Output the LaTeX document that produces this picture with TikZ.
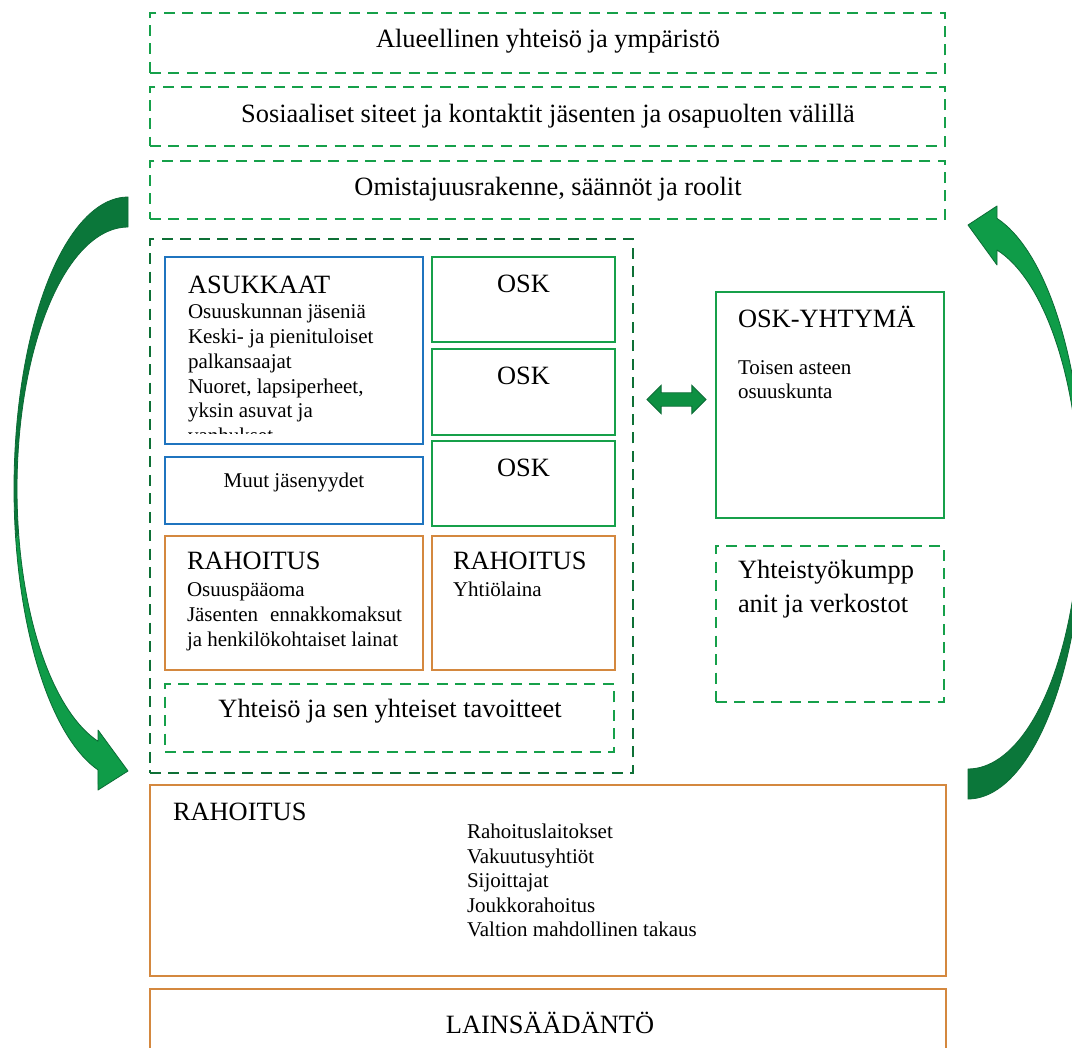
\documentclass[tikz,border=0pt]{standalone}
\usepackage{fontspec}
\setmainfont{Liberation Serif}
\usetikzlibrary{fit,shapes.arrows}
\definecolor{lgreen}{HTML}{16A04A}
\definecolor{dgreen}{HTML}{0E7036}
\definecolor{bblue}{HTML}{1F74BF}
\definecolor{oorange}{HTML}{D4883F}
\definecolor{arrdark}{HTML}{0B773A}
\definecolor{arrlight}{HTML}{0F9C48}
\definecolor{arrline}{HTML}{0B6B35}
\tikzset{
  frame/.style={inner sep=0pt, outer sep=0pt, line width=2.1pt},
  gdashbox/.style={frame, draw=lgreen, dash pattern=on 8.25pt off 5.6pt},
  ddashbox/.style={frame, draw=dgreen, dash pattern=on 8.25pt off 5.6pt},
  bluebox/.style={frame, draw=bblue},
  greenbox/.style={frame, draw=lgreen},
  orangebox/.style={frame, draw=oorange},
  big/.style={font=\fontsize{19.8pt}{24pt}\selectfont},
  small/.style={font=\fontsize{15.75pt}{18.4pt}\selectfont},
  tl/.style={inner sep=0pt, outer sep=0pt, anchor=base west},
  tc/.style={inner sep=0pt, outer sep=0pt, anchor=base},
}
\begin{document}
\begin{tikzpicture}[x=0.75pt,y=-0.75pt]
\useasboundingbox (0,0) rectangle (1072,1047);
\fill[white] (0,0) rectangle (1072,1047);
\clip (0,0) rectangle (1072,1047);

% top boxes
\node[gdashbox, fit={(150,13) (945,73)}] (b1) {};
\node[gdashbox, fit={(150,87) (945,146)}] (b2) {};
\node[gdashbox, fit={(150,161) (945,219)}] (b3) {};
\node[big,tc] (t1) at (548,47) {Alueellinen yhteisö ja ympäristö};
\node[big,tc] (t2) at (548,122) {Sosiaaliset siteet ja kontaktit jäsenten ja osapuolten välillä};
\node[big,tc] (t3) at (548,195) {Omistajuusrakenne, säännöt ja roolit};

% outer dashed group
\node[ddashbox, fit={(150,239) (633,773)}] (outer) {};

% ASUKKAAT
\node[bluebox, fit={(165,257) (423,444)}] (asuk) {};
\node[big,tl] (asukt) at (188,293) {ASUKKAAT};
\begin{scope}
\clip (165,257) rectangle (423,433);
\node[small,tl] (a1) at (188,318) {Osuuskunnan jäseniä};
\node[small,tl] (a2) at (188,343) {Keski- ja pienituloiset};
\node[small,tl] (a3) at (188,368) {palkansaajat};
\node[small,tl] (a4) at (188,393) {Nuoret, lapsiperheet,};
\node[small,tl] (a5) at (188,417) {yksin asuvat ja};
\node[small,tl] (a6) at (188,442) {vanhukset};
\end{scope}

\node[bluebox, fit={(165,457) (423,524)}] (muut) {};
\node[small,tc] (muutt) at (294,487) {Muut jäsenyydet};

% OSK boxes
\node[greenbox, fit={(432,257) (615,342)}] (osk1) {};
\node[greenbox, fit={(432,349) (615,435)}] (osk2) {};
\node[greenbox, fit={(432,441) (615,526)}] (osk3) {};
\node[big,tc] (osk1t) at (523.5,292) {OSK};
\node[big,tc] (osk2t) at (523.5,384) {OSK};
\node[big,tc] (osk3t) at (523.5,476) {OSK};

% RAHOITUS inner
\node[orangebox, fit={(165,536) (423,670)}] (rah1) {};
\node[big,tl] (rah1t) at (187,569) {RAHOITUS};
\node[small,tl] (r1) at (187,596) {Osuuspääoma};
\node[small,tl] (r2) at (187,621) {Jäsenten\hspace{5pt} ennakkomaksut};
\node[small,tl] (r3) at (187,646) {ja henkilökohtaiset lainat};

\node[orangebox, fit={(432,536) (615,670)}] (rah2) {};
\node[big,tl] (rah2t) at (453,569) {RAHOITUS};
\node[small,tl] (r4) at (453,596) {Yhtiölaina};

\node[gdashbox, fit={(165,684) (614,752)}] (yht) {};
\node[big,tc] (yhtt) at (390,717) {Yhteisö ja sen yhteiset tavoitteet};

% right side
\node[greenbox, fit={(716,292) (944,518)}] (yhtyma) {};
\node[big,tl] (yhtymat) at (738,327) {OSK-YHTYMÄ};
\node[small,tl] (y1) at (738,374) {Toisen asteen};
\node[small,tl] (y2) at (738,398) {osuuskunta};

\node[gdashbox, fit={(716,546) (944,702)}] (kump) {};
\node[big,tl] (k1) at (738,578) {Yhteistyökumpp};
\node[big,tl] (k2) at (738,612) {anit ja verkostot};

% double arrow
\node[double arrow, draw=arrline, fill=arrlight!92!black, line width=0.7pt,
      minimum height=44.25pt, inner xsep=0pt, inner ysep=4.7pt,
      double arrow head extend=5.5pt] (dbl) at (676.5,399.5) {};

% bottom RAHOITUS
\node[orangebox, fit={(150,785) (946,976)}] (rahb) {};
\node[big,tl] (rahbt) at (173,820) {RAHOITUS};
\node[small,tl] (l1) at (467,838) {Rahoituslaitokset};
\node[small,tl] (l2) at (467,863) {Vakuutusyhtiöt};
\node[small,tl] (l3) at (467,887) {Sijoittajat};
\node[small,tl] (l4) at (467,912) {Joukkorahoitus};
\node[small,tl] (l5) at (467,936) {Valtion mahdollinen takaus};

% LAINSÄÄDÄNTÖ
\node[orangebox, fit={(150,989) (946,1062)}] (lain) {};
\node[big,tc] (laint) at (550,1033) {LAINSÄÄDÄNTÖ};

% left curved arrow
\fill[arrdark] plot[domain=90:190, samples=40, variable=\t] ({128+114*cos(\t)}, {488.6-291.6*sin(\t)})
  -- plot[domain=190:90, samples=40, variable=\t] ({128+111*cos(\t)}, {489-262*sin(\t)}) -- cycle;
\fill[arrlight] plot[domain=190:254.74, samples=40, variable=\t] ({128+114*cos(\t)}, {488.6-291.6*sin(\t)})
  -- (98,790) -- (128,771) -- (98,730)
  -- plot[domain=254.32:190, samples=40, variable=\t] ({128+111*cos(\t)}, {489-262*sin(\t)}) -- cycle;
\draw[arrline, line width=0.6pt, line join=round] plot[domain=90:254.74, samples=80, variable=\t] ({128+114*cos(\t)}, {488.6-291.6*sin(\t)})
  -- (98,790) -- (128,771) -- (98,730)
  -- plot[domain=254.32:90, samples=80, variable=\t] ({128+111*cos(\t)}, {489-262*sin(\t)}) -- cycle;

% right curved arrow
\fill[arrdark] plot[domain=-90:-17, samples=40, variable=\t] ({968+116*cos(\t)}, {504-295*sin(\t)})
  -- plot[domain=-17:-90, samples=40, variable=\t] ({968+112*cos(\t)}, {505-264*sin(\t)}) -- cycle;
\fill[arrlight] plot[domain=-17:75.52, samples=40, variable=\t] ({968+116*cos(\t)}, {504-295*sin(\t)})
  -- (997,206) -- (968,225) -- (997,265)
  -- plot[domain=74.99:-17, samples=40, variable=\t] ({968+112*cos(\t)}, {505-264*sin(\t)}) -- cycle;
\draw[arrline, line width=0.6pt, line join=round] plot[domain=-90:75.52, samples=80, variable=\t] ({968+116*cos(\t)}, {504-295*sin(\t)})
  -- (997,206) -- (968,225) -- (997,265)
  -- plot[domain=74.99:-90, samples=80, variable=\t] ({968+112*cos(\t)}, {505-264*sin(\t)}) -- cycle;
\end{tikzpicture}
\end{document}
